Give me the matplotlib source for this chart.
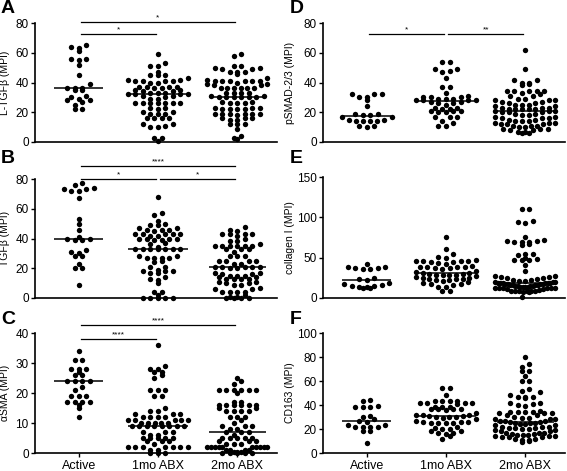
import numpy as np
import matplotlib
matplotlib.use("Agg")
import matplotlib.pyplot as plt

plt.rcParams['font.family'] = ['Liberation Sans', 'DejaVu Sans']

groups = ["Active", "1mo ABX", "2mo ABX"]

# panel A: L-TGFb
ltgfb_active = [65, 64, 63, 61, 56, 56, 55, 52, 45, 39, 36, 36, 36, 35, 35, 31, 30, 29, 28, 28, 27, 25, 22, 22]
ltgfb_1mo = [59, 53, 51, 51, 47, 45, 45, 45, 43, 42, 42, 41, 41, 41, 41, 40, 40, 37, 37, 37, 37, 36, 36, 35,
             35, 34, 34, 33, 33, 33, 32, 32, 32, 32, 31, 31, 30, 29, 29, 26, 26, 26, 26, 26, 26, 26, 23, 23,
             22, 20, 20, 19, 19, 19, 16, 16, 16, 16, 12, 12, 11, 10, 10, 3, 3, 1]
ltgfb_2mo = [59, 58, 51, 51, 50, 50, 49, 49, 47, 47, 47, 46, 43, 42, 41, 41, 41, 41, 41, 41, 40, 39, 39, 38,
             38, 36, 36, 36, 36, 36, 36, 33, 33, 33, 33, 31, 31, 30, 30, 30, 30, 30, 30, 27, 27, 26, 26, 26,
             23, 23, 23, 22, 22, 22, 22, 19, 19, 19, 19, 19, 19, 18, 16, 16, 16, 15, 15, 12, 12, 12, 9, 4, 3, 2]

# panel B: TGFb
tgfb_active = [77, 76, 74, 73, 73, 72, 72, 67, 53, 50, 46, 41, 40, 40, 39, 39, 32, 31, 30, 28, 28, 23, 20, 20, 9]
tgfb_1mo = [68, 57, 56, 52, 50, 49, 49, 47, 47, 46, 46, 46, 45, 43, 43, 43, 43, 43, 42, 42, 40, 40, 40, 40,
            39, 39, 37, 36, 34, 33, 33, 33, 33, 33, 33, 33, 28, 28, 27, 27, 27, 27, 25, 24, 21, 21, 19, 18,
            18, 18, 17, 17, 14, 13, 12, 10, 4, 4, 2, 0, 0, 0, 0, 0]
tgfb_2mo = [48, 46, 45, 43, 43, 43, 43, 42, 40, 38, 38, 36, 35, 35, 35, 35, 35, 35, 33, 33, 33, 31, 28, 28,
            28, 25, 25, 25, 25, 23, 23, 21, 21, 21, 21, 21, 20, 20, 17, 17, 16, 16, 15, 15, 15, 14, 14, 13,
            13, 13, 13, 11, 11, 10, 10, 9, 9, 7, 6, 6, 4, 4, 4, 4, 2, 1, 1, 0, 0, 0, 0]

# panel C: aSMA
asma_active = [34, 31, 31, 28, 28, 28, 27, 26, 26, 24, 24, 24, 24, 22, 21, 19, 19, 19, 17, 17, 17, 17, 16, 15, 12]
asma_1mo = [36, 29, 28, 28, 27, 27, 26, 25, 21, 21, 21, 19, 19, 15, 14, 14, 13, 13, 13, 12, 12, 12, 12, 11,
            11, 11, 11, 11, 10, 10, 10, 10, 10, 9, 9, 9, 9, 9, 9, 9, 9, 7, 7, 7, 6, 6, 5, 5, 5, 5, 5, 4,
            4, 4, 3, 2, 2, 2, 2, 2, 2, 2, 1, 1, 0, 0, 0]
asma_2mo = [25, 24, 23, 21, 21, 21, 21, 21, 21, 20, 17, 17, 16, 16, 16, 16, 16, 16, 15, 15, 14, 14, 14, 14,
            12, 12, 12, 11, 10, 9, 9, 9, 8, 8, 7, 7, 7, 6, 5, 5, 5, 5, 5, 4, 4, 4, 3, 3, 3, 2, 2, 2, 2,
            2, 2, 2, 2, 2, 2, 1, 1, 1, 1, 0.5, 0.5, 0.5, 0, 0, 0, 0, 0]

# panel D: pSMAD-2/3
psmad_active = [32, 32, 32, 30, 30, 28, 24, 19, 19, 18, 18, 17, 17, 15, 15, 14, 14, 14, 14, 11, 11, 10]
psmad_1mo = [54, 54, 49, 49, 48, 47, 43, 37, 37, 33, 31, 30, 30, 30, 29, 29, 29, 28, 28, 28, 28, 27, 27, 26,
             26, 25, 23, 23, 22, 22, 21, 21, 21, 20, 20, 17, 17, 17, 14, 13, 11, 11]
psmad_2mo = [62, 49, 42, 42, 40, 40, 39, 38, 34, 34, 34, 34, 34, 33, 32, 31, 31, 29, 29, 28, 28, 28, 27, 27,
             26, 26, 25, 25, 25, 24, 24, 23, 23, 23, 22, 22, 22, 22, 21, 21, 21, 20, 20, 20, 19, 19, 22, 18,
             18, 17, 17, 16, 16, 16, 15, 15, 14, 14, 14, 13, 13, 13, 12, 12, 12, 11, 11, 11, 10, 10, 9, 9,
             9, 8, 8, 7, 7, 6, 6]

# panel E: collagen I
col_active = [42, 39, 38, 37, 37, 36, 36, 25, 23, 22, 18, 17, 16, 15, 15, 14, 14, 13, 12]
col_1mo = [76, 61, 54, 51, 50, 47, 46, 46, 46, 46, 45, 45, 44, 42, 40, 39, 39, 38, 38, 37, 37, 36, 33, 32,
           31, 31, 30, 30, 29, 29, 28, 28, 27, 26, 25, 25, 24, 24, 23, 22, 22, 21, 20, 18, 17, 17, 16, 14,
           14, 9, 9]
col_2mo = [110, 110, 95, 94, 93, 76, 72, 71, 71, 70, 70, 69, 67, 66, 55, 54, 53, 50, 48, 47, 47, 47, 41, 34,
           27, 27, 26, 26, 25, 25, 24, 22, 22, 21, 21, 20, 20, 20, 19, 19, 19, 18, 18, 18, 17, 17, 17, 17,
           16, 16, 16, 16, 15, 15, 15, 15, 14, 14, 14, 14, 13, 13, 13, 12, 12, 12, 11, 11, 10, 9, 9, 9, 9,
           9, 9, 8, 7, 1]

# panel F: CD163
cd_active = [44, 43, 39, 38, 38, 38, 31, 30, 28, 27, 26, 23, 23, 22, 22, 22, 22, 18, 18, 8]
cd_1mo = [54, 54, 48, 43, 43, 43, 43, 42, 42, 42, 42, 41, 38, 38, 38, 37, 37, 37, 37, 36, 33, 32, 32, 32,
          31, 31, 30, 30, 30, 29, 28, 27, 26, 26, 26, 25, 25, 25, 25, 22, 21, 20, 20, 18, 18, 17, 17, 16,
          14, 12]
cd_2mo = [80, 74, 72, 68, 68, 64, 60, 60, 53, 52, 51, 48, 47, 47, 47, 46, 42, 42, 41, 40, 39, 35, 34, 34,
          34, 34, 33, 33, 33, 32, 32, 30, 29, 29, 28, 28, 28, 27, 27, 27, 26, 26, 25, 25, 25, 24, 24, 23,
          23, 22, 22, 22, 21, 21, 21, 20, 20, 19, 19, 18, 18, 17, 17, 17, 16, 16, 15, 15, 15, 14, 14, 14,
          13, 13, 13, 12, 12, 11, 11, 10, 9]

panels = [
    ("A", "L-TGFβ (MPI)", [ltgfb_active, ltgfb_1mo, ltgfb_2mo], 80, [0, 20, 40, 60, 80],
     [(0, 1, 72.6, "*"), (0, 2, 80.5, "*")]),
    ("B", "TGFβ (MPI)", [tgfb_active, tgfb_1mo, tgfb_2mo], 80, [0, 20, 40, 60, 80],
     [(0, 1, 80, "*"), (1, 2, 80, "*"), (0, 2, 89, "****")]),
    ("C", "αSMA (MPI)", [asma_active, asma_1mo, asma_2mo], 40, [0, 10, 20, 30, 40],
     [(0, 1, 38, "****"), (0, 2, 42.7, "****")]),
    ("D", "pSMAD-2/3 (MPI)", [psmad_active, psmad_1mo, psmad_2mo], 80, [0, 20, 40, 60, 80],
     [(0, 1, 72.6, "*"), (1, 2, 72.6, "**")]),
    ("E", "collagen I (MPI)", [col_active, col_1mo, col_2mo], 150, [0, 50, 100, 150], []),
    ("F", "CD163 (MPI)", [cd_active, cd_1mo, cd_2mo], 100, [0, 20, 40, 60, 80, 100], []),
]

W, H = 567, 471
fig = plt.figure(figsize=(W / 100, H / 100), dpi=100)

# axes boxes in pixels (left, top, right, bottom)
boxes = {
    "A": (35, 23, 277, 142), "B": (35, 179, 277, 298), "C": (35, 333, 277, 453),
    "D": (323, 23, 565, 142), "E": (323, 177, 565, 298), "F": (323, 333, 565, 453),
}
letter_pos = {"A": (1, 0), "B": (1, 150), "C": (1, 311), "D": (290, 0), "E": (290, 150), "F": (290, 311)}
median_half = [0.31, 0.38, 0.36]
max_half_px = [25, 30, 30]   # widest a row may get, px
ROW_H = 5.5   # row height in px
GAP = 7.5     # preferred spacing of dots in a row, px


def row_layout(y_px, maxw):
    # GraphPad-like scatter: values binned into rows, lowest value of a row in the middle
    xs = np.zeros(len(y_px))
    bins = np.round(y_px / ROW_H).astype(int)
    for bi in np.unique(bins):
        idx = np.where(bins == bi)[0]
        n = len(idx)
        if n == 1:
            continue
        sp = min(GAP, 2 * maxw / (n - 1))
        pos = (np.arange(n) - (n - 1) / 2) * sp
        pos = pos[np.lexsort((pos, np.abs(pos)))]
        idx = idx[np.argsort(y_px[idx], kind="stable")]
        xs[idx] = pos
    return xs


for letter, ylabel, data, ymax, yticks, sig in panels:
    l, t, r, b = boxes[letter]
    ax = fig.add_axes([l / W, (H - b) / H, (r - l) / W, (b - t) / H])
    ax.set_xlim(-0.55, 2.5)
    ax.set_ylim(0, ymax)
    xscale = (r - l) / 3.05
    for k, vals in enumerate(data):
        vals = np.asarray(vals, dtype=float)
        y_px = ax.transData.transform(np.column_stack([np.zeros(len(vals)), vals]))[:, 1]
        offs = row_layout(y_px, max_half_px[k])
        ax.scatter(k + offs / xscale, vals, s=15, color="black", linewidths=0, clip_on=False, zorder=3)
        med = np.median(vals)
        ax.plot([k - median_half[k], k + median_half[k]], [med, med], color="black", lw=1.1,
                zorder=4, solid_capstyle="butt")
    for x1, x2, yb, txt in sig:
        ax.plot([x1 + 0.03, x2 - 0.03], [yb, yb], color="black", lw=0.9, clip_on=False)
        ax.text((x1 + x2) / 2, yb + ymax * 0.005, txt, ha="center", va="bottom", fontsize=6)

    for s in ["top", "right"]:
        ax.spines[s].set_visible(False)
    for s in ["left", "bottom"]:
        ax.spines[s].set_linewidth(1.2)
    ax.set_yticks(yticks)
    ax.tick_params(axis="y", labelsize=8.5, length=3, width=1, pad=1.5)
    ax.set_ylabel(ylabel, fontsize=7.5)
    ax.yaxis.set_label_coords(-0.105 if letter in ("A", "B", "C") else -0.115, 0.5)
    if letter in ("C", "F"):
        ax.set_xticks([0, 1, 2])
        ax.set_xticklabels(groups, fontsize=9)
        ax.tick_params(axis="x", length=3, width=1, pad=2)
    else:
        ax.set_xticks([])
    lx, ly = letter_pos[letter]
    fig.text(lx / W, 1 - ly / H, letter, fontsize=14, fontweight="bold", ha="left", va="top")

fig.savefig("out.png", dpi=100)
